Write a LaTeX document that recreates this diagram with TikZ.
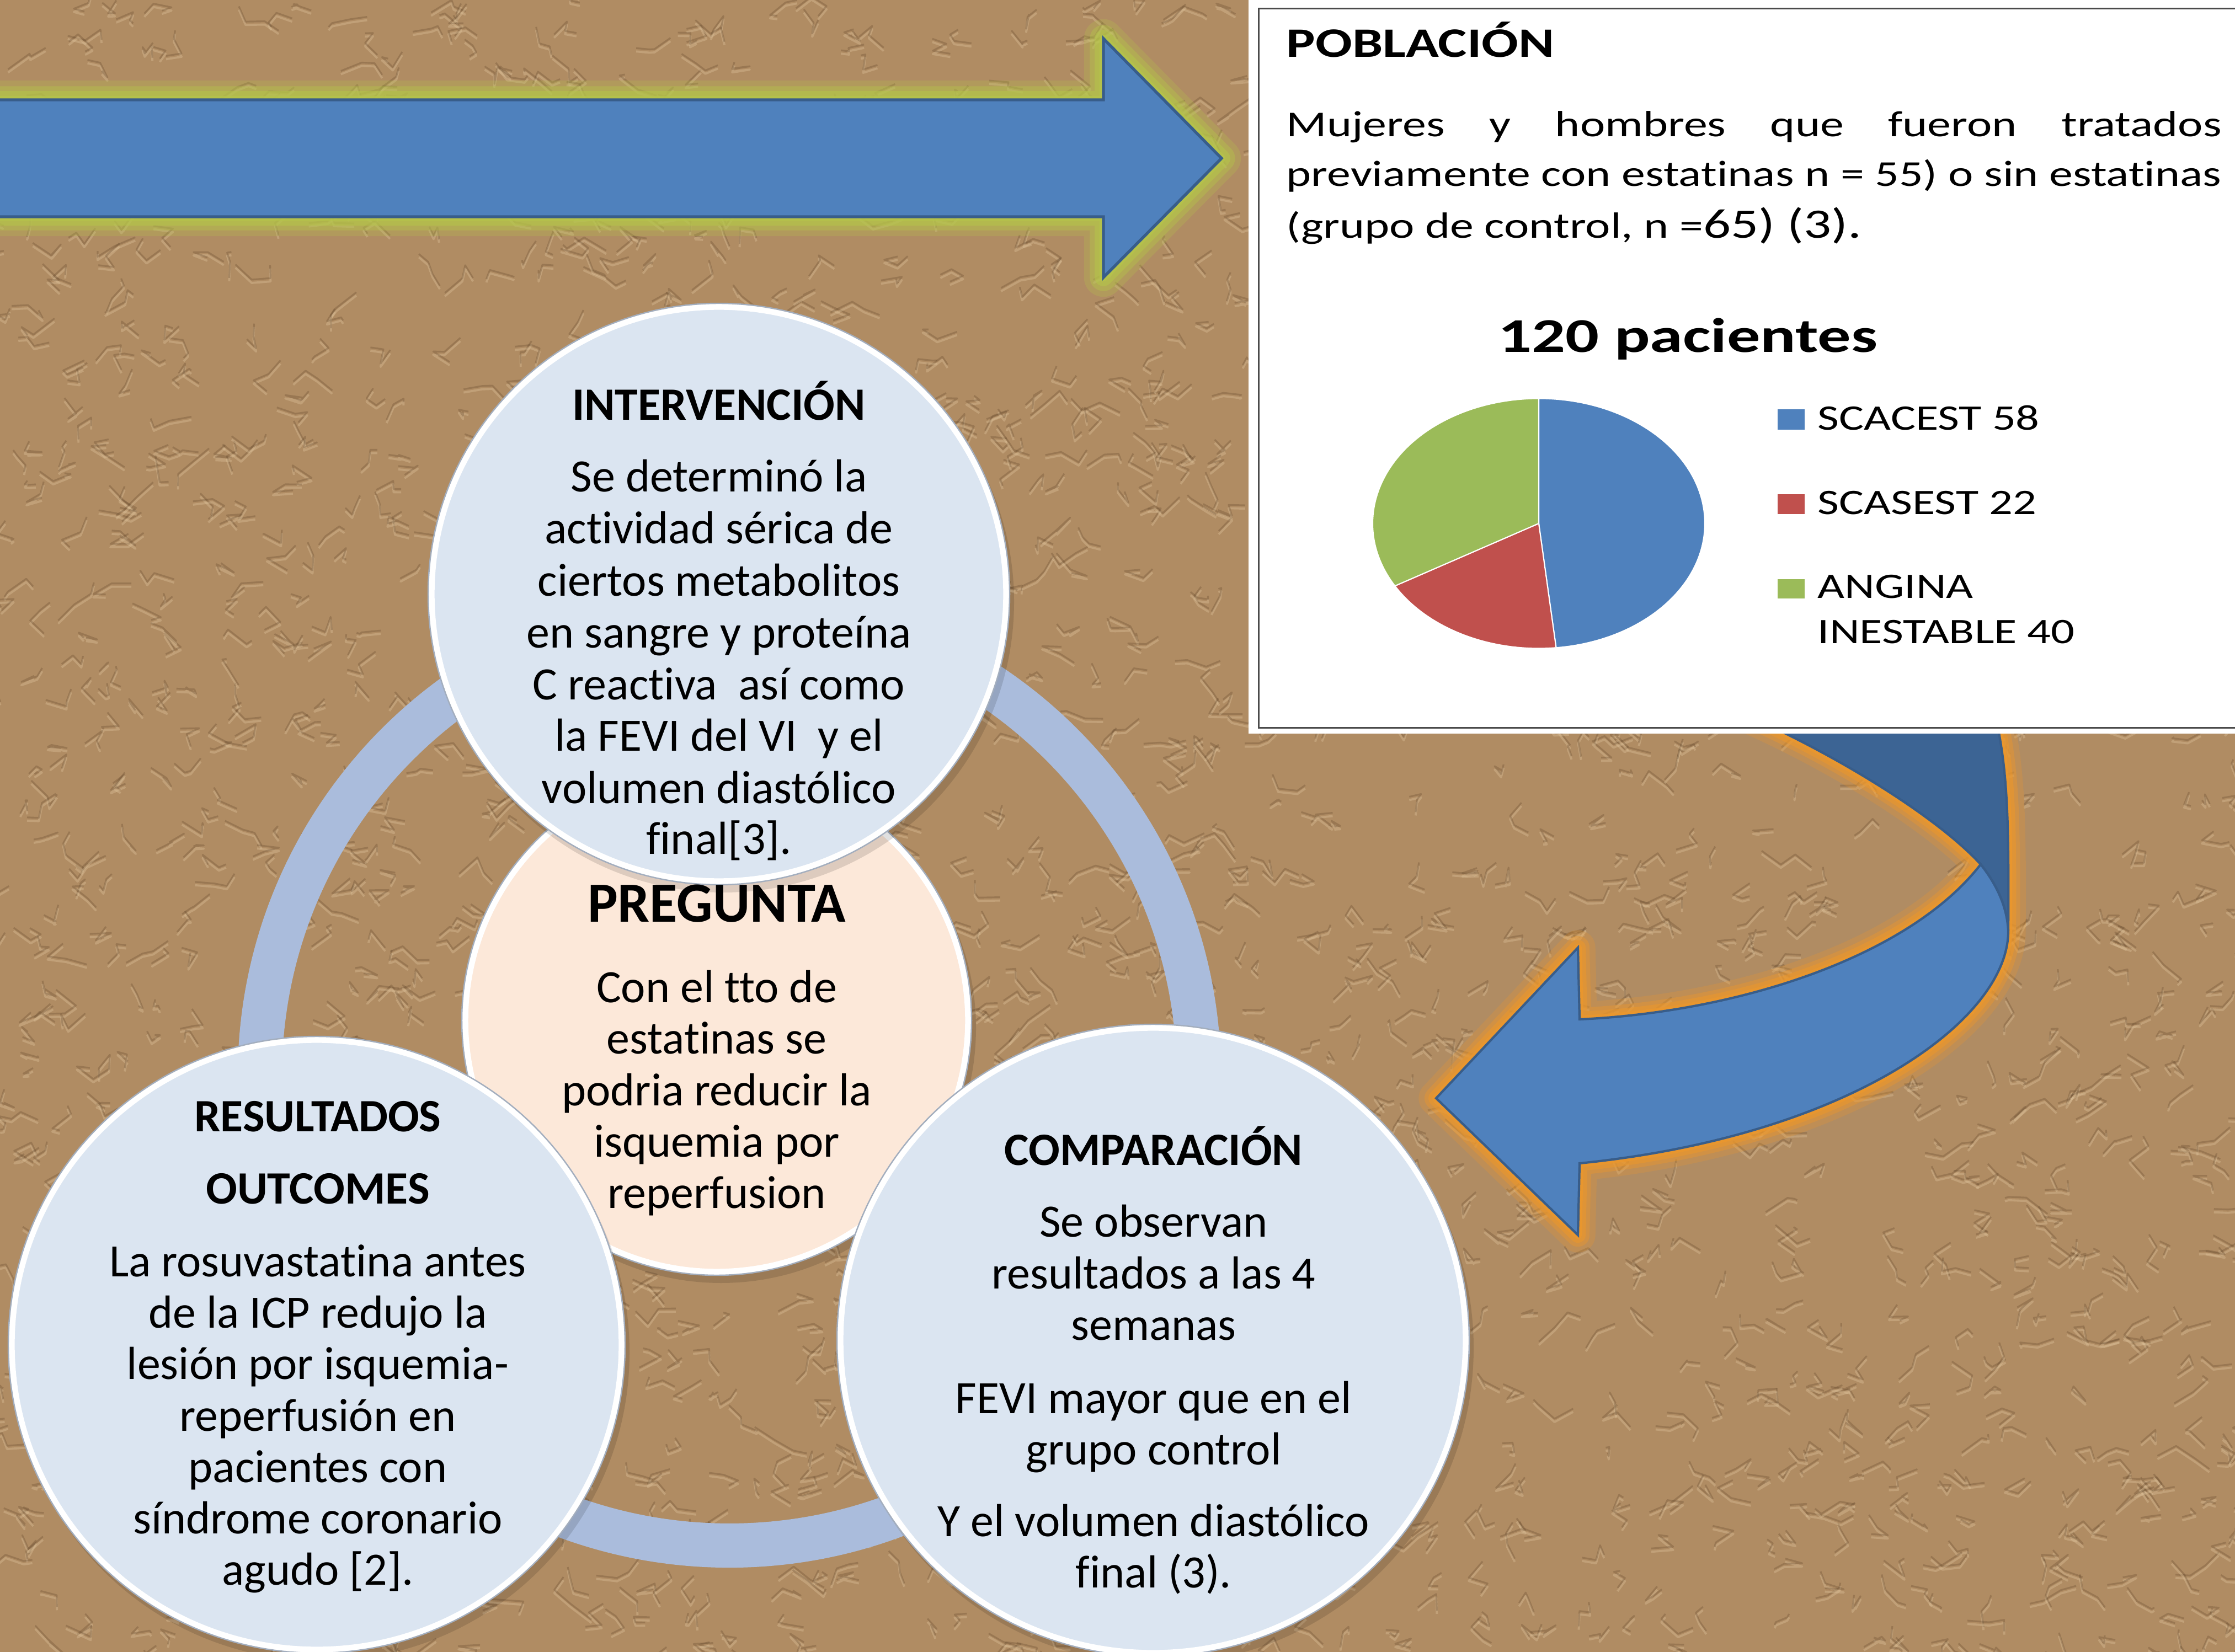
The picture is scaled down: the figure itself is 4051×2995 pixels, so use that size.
\documentclass[tikz,border=0pt]{standalone}
\usepackage{fontspec}
\setmainfont{Carlito}[Ligatures=NoCommon]
\newfontfamily\boxfont[FakeStretch=1.3,Ligatures=NoCommon]{Carlito}
\newfontfamily\boxfontw[FakeStretch=1.37,Ligatures=NoCommon]{Carlito}
\definecolor{bgtan}{HTML}{B08C63}
\definecolor{bgdark}{HTML}{5E4429}
\definecolor{bglight}{HTML}{E2C8A0}
\definecolor{arrblue}{HTML}{4F81BD}
\definecolor{arrline}{HTML}{385D8A}
\definecolor{arrdark}{HTML}{3C6494}
\definecolor{glowgreen}{HTML}{B5C54A}
\definecolor{gloworange}{HTML}{EC972C}
\definecolor{ringblue}{HTML}{AABCDC}
\definecolor{circblue}{HTML}{DBE5F1}
\definecolor{circpeach}{HTML}{FCE8D9}
\definecolor{rimgray}{HTML}{A3AEBE}
\definecolor{piered}{HTML}{C0504D}
\definecolor{piegreen}{HTML}{9BBB59}
\definecolor{boxline}{HTML}{4A4A4A}
\tikzset{
  crease/.style={draw=bgdark, opacity=0.28, line width=0.9pt, line join=round},
  highlight/.style={draw=bglight, opacity=0.35, line width=1.1pt, line join=round},
  bluecirc/.style={circle, fill=circblue, draw=white, line width=3.4pt, inner sep=0},
  peachcirc/.style={circle, fill=circpeach, draw=white, line width=3.4pt, inner sep=0},
  rim/.style={draw=rimgray, line width=0.7pt},
  csh/.style={fill=black, opacity=0.12},
  tl/.style={anchor=base, inner sep=0, font=\fontsize{23.9}{26.7}\selectfont},
  tt/.style={anchor=base, inner sep=0, font=\bfseries\fontsize{23.9}{26.7}\selectfont},
  bx/.style={anchor=base west, inner sep=0, font=\boxfont\fontsize{18.8}{22}\selectfont},
  lg/.style={anchor=base west, inner sep=0, font=\boxfont\fontsize{18.5}{22}\selectfont},
}
\begin{document}
\begin{tikzpicture}[x=0.01cm, y=-0.01cm]
\useasboundingbox (0,0) rectangle (4051,2995);
% background
\fill[bgtan] (0,0) rectangle (4051,2995);
\pgfmathsetseed{4242}
\foreach \i in {1,...,2600}{
  \pgfmathsetmacro{\px}{rnd*4100}
  \pgfmathsetmacro{\py}{rnd*3050}
  \pgfmathsetmacro{\ax}{(rnd-0.5)*80}
  \pgfmathsetmacro{\ay}{(rnd-0.5)*60}
  \pgfmathsetmacro{\bx}{(rnd-0.5)*70}
  \pgfmathsetmacro{\by}{(rnd-0.5)*55}
  \pgfmathsetmacro{\cx}{(rnd-0.5)*60}
  \pgfmathsetmacro{\cy}{(rnd-0.5)*50}
  \draw[highlight] (\px,\py+6) -- ++(\ax,\ay) -- ++(\bx,\by) -- ++(\cx,\cy);
  \draw[crease] (\px,\py) -- ++(\ax,\ay) -- ++(\bx,\by) -- ++(\cx,\cy);
}

% straight arrow (top)
\foreach \w/\o in {20/0.25, 14/0.4, 9/0.55, 4/0.75}{
\path[draw=glowgreen, opacity=\o, line width=\w pt, line join=round]
  (-40,181) -- (2000,181) -- (2000,70) -- (2214,287) -- (2000,503) -- (2000,393) -- (-40,393);
}
\path[fill=arrblue, draw=arrline, line width=1.5pt]
  (-40,181) -- (2000,181) -- (2000,70) -- (2214,287) -- (2000,503) -- (2000,393) -- (-40,393) -- cycle;

% curved arrow (right)
\foreach \w/\o in {18/0.25, 12/0.4, 8/0.55, 4/0.75}{
\path[draw=gloworange, opacity=\o, line width=\w pt, line join=round]
  (3173,1300) .. controls (3330,1370) and (3510,1480) .. (3590,1567)
  .. controls (3460,1735) and (3150,1835) .. (2863,1848) -- (2860,1718) -- (2603,1991) -- (2860,2239) -- (2863,2109)
  .. controls (3350,2060) and (3640,1850) .. (3640,1688)
  .. controls (3641,1500) and (3640,1400) .. (3617,1300);
}
\path[fill=arrdark, draw=arrline, line width=1.2pt]
  (3173,1300) -- (3617,1300) .. controls (3640,1400) and (3641,1500) .. (3640,1688)
  .. controls (3638,1645) and (3620,1605) .. (3590,1567)
  .. controls (3510,1480) and (3330,1370) .. (3173,1300) -- cycle;
\path[fill=arrblue, draw=arrline, line width=1.2pt]
  (3590,1567) .. controls (3620,1605) and (3638,1645) .. (3640,1688)
  .. controls (3640,1850) and (3350,2060) .. (2863,2109)
  -- (2860,2239) -- (2603,1991) -- (2860,1718) -- (2863,1848)
  .. controls (3150,1835) and (3460,1735) .. (3590,1567) -- cycle;

% ring
\draw[ringblue, line width=22.8pt] (1322,1951) circle[radius=851];

% circles
\fill[csh] (1299+8,1850+14) circle[radius=462];
\node[peachcirc, minimum size=9.12cm] (preg) at (1299,1850) {};
\draw[rim] (preg.center) circle[radius=462];

\fill[csh] (1303+8,1077+14) circle[radius=527];
\node[bluecirc, minimum size=10.42cm] (interv) at (1303,1077) {};
\draw[rim] (interv.center) circle[radius=527];

\fill[csh] (574+8,2438+14) circle[radius=559];
\node[bluecirc, minimum size=11.06cm] (result) at (574,2438) {};
\draw[rim] (result.center) circle[radius=559];

\fill[csh] (2090+8,2430+14) circle[radius=573];
\node[bluecirc, minimum size=11.34cm] (compar) at (2090,2430) {};
\draw[rim] (compar.center) circle[radius=573];

% Intervencion text
\node[tt] (i0) at (1303,762) {INTERVENCIÓN};
\foreach \yy/\tx [count=\k] in {892/Se determinó la, 986/actividad sérica de, 1081/ciertos metabolitos,
  1175/en sangre y proteína, 1268/C reactiva\ \ así como, 1362/la FEVI del VI\ \ y el,
  1456/volumen diastólico, 1548/final[3].}
  \node[tl] (i\k) at (1303,\yy) {\tx};

% Pregunta text
\node[anchor=base, inner sep=0, font=\bfseries\fontsize{29.3}{32}\selectfont] (p0) at (1299,1671) {PREGUNTA};
\foreach \yy/\tx [count=\k] in {1817/Con el tto de, 1910/estatinas se, 2004/podria reducir la,
  2097/isquemia por, 2190/reperfusion}
  \node[tl] (p\k) at (1299,\yy) {\tx};

% Resultados text
\node[tt] (r0) at (576,2051) {RESULTADOS};
\node[tt] (r00) at (576,2182) {OUTCOMES};
\foreach \yy/\tx [count=\k] in {2314/La rosuvastatina antes, 2407/de la ICP redujo la, 2500/lesión por isquemia-,
  2594/reperfusión en, 2687/pacientes con, 2780/síndrome coronario, 2873/agudo [2].}
  \node[tl] (r\k) at (576,\yy) {\tx};

% Comparacion text
\node[tt] (c0) at (2091,2112) {COMPARACIÓN};
\foreach \yy/\tx [count=\k] in {2242/Se observan, 2336/resultados a las 4, 2429/semanas,
  2562/FEVI mayor que en el, 2655/grupo control, 2785/Y el volumen diastólico, 2878/final (3).}
  \node[tl] (c\k) at (2091,\yy) {\tx};

% Poblacion box
\fill[white] (2263,-10) rectangle (4080,1330);
\node[draw=boxline, fill=white, line width=0.9pt, anchor=north west, minimum width=18.1cm, minimum height=13.03cm, inner sep=0] (box) at (2280,14) {};
\node[bx, font=\boxfont\bfseries\fontsize{21.6}{24}\selectfont] (b0) at (2331,104) {POBLACIÓN};
\node[bx] (b1) at (2331,248) {\makebox[16.94cm][s]{Mujeres y hombres que fueron tratados}};
\node[bx] (b2) at (2331,338) {\makebox[16.94cm][s]{previamente con estatinas n = 55) o sin estatinas}};
\node[bx] (b3) at (2331,432) {(grupo de control, n =\fontsize{21.6}{24}\selectfont 65) (3).};
\node[bx, font=\boxfontw\bfseries\fontsize{25}{28}\selectfont] (ptitle) at (2715,639) {120 pacientes};

% pie
\path[fill=arrblue, draw=white, line width=0.6pt] (2789,949) -- ++(-90:301 and 226.5)
  arc[start angle=-90, end angle=84, x radius=301, y radius=226.5] -- cycle;
\path[fill=piered, draw=white, line width=0.6pt] (2789,949) -- ++(84:301 and 226.5)
  arc[start angle=84, end angle=150, x radius=301, y radius=226.5] -- cycle;
\path[fill=piegreen, draw=white, line width=0.6pt] (2789,949) -- ++(150:301 and 226.5)
  arc[start angle=150, end angle=270, x radius=301, y radius=226.5] -- cycle;
\coordinate (pie) at (2789,949);

% legend
\fill[arrblue] (3222,742) rectangle (3271,779);
\fill[piered] (3222,896) rectangle (3271,932);
\fill[piegreen] (3222,1050) rectangle (3271,1085);
\node[lg] (l1) at (3294,780) {SCACEST 58};
\node[lg] (l2) at (3294,933) {SCASEST 22};
\node[lg] (l3) at (3294,1085) {ANGINA};
\node[lg] (l4) at (3294,1167) {INESTABLE 40};
\end{tikzpicture}
\end{document}
